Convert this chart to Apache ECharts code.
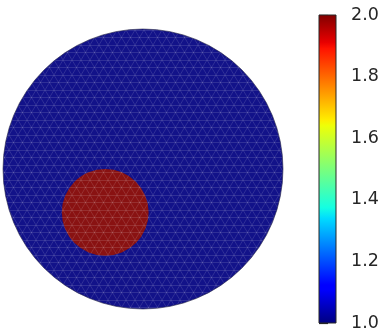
<!DOCTYPE html>
<html>
<head>
<meta charset="utf-8">
<style>
  html, body { margin: 0; padding: 0; background: #fff; }
  #chart { width: 383px; height: 333px; }
</style>
<script src="https://cdn.jsdelivr.net/npm/echarts@6/dist/echarts.min.js"></script>
</head>
<body>
<div id="chart"></div>
<script>
// regions of the field: unit disk with one circular inclusion
const regionX = [0, -0.27];
const regionY = [0, -0.31];
const regionR = [1, 0.31];
const regionValue = [1, 2];

// colorbar
const colorMin = 1.0;
const colorMax = 2.0;
const colorTicks = [1.0, 1.2, 1.4, 1.6, 1.8, 2.0];

// jet colormap, stops as [offset, color]
const jetStops = [
  [0.0, "#000080"], [0.11, "#0000ff"], [0.125, "#0000ff"], [0.34, "#00dbff"],
  [0.375, "#14ffe2"], [0.64, "#eeff08"], [0.66, "#ffec00"], [0.89, "#ff1300"],
  [0.91, "#e80000"], [1.0, "#800000"],
];

function jetAt(t) {
  for (let i = 1; i < jetStops.length; i++) {
    if (t <= jetStops[i][0]) return jetStops[i - 1][0] === t ? jetStops[i - 1][1] : jetStops[i][1];
  }
  return jetStops[jetStops.length - 1][1];
}

// faint mesh texture laid over the filled regions
function meshPattern() {
  const c = document.createElement("canvas");
  c.width = 9;
  c.height = 15;
  const ctx = c.getContext("2d");
  ctx.fillStyle = "rgba(255,255,255,0.07)";
  ctx.fillRect(0, 0, 9, 15);
  ctx.strokeStyle = "rgba(255,255,255,0.18)";
  ctx.lineWidth = 0.7;
  ctx.beginPath();
  ctx.moveTo(0, 0.5); ctx.lineTo(9, 0.5);
  ctx.moveTo(0, 7.5); ctx.lineTo(9, 7.5);
  ctx.moveTo(0, 0); ctx.lineTo(4.5, 7.5); ctx.lineTo(9, 15);
  ctx.moveTo(9, 0); ctx.lineTo(4.5, 7.5); ctx.lineTo(0, 15);
  ctx.stroke();
  return c;
}

const regionData = regionX.map((x, i) => [x, regionY[i], regionR[i], regionValue[i]]);
const pattern = { image: meshPattern(), repeat: "repeat" };

const chart = echarts.init(document.getElementById("chart"));
chart.setOption({
  animation: false,
  grid: [
    { left: 3, top: 29, width: 280, height: 280 },
    { left: 319, top: 15, width: 17, height: 308 },
  ],
  xAxis: [
    { type: "value", min: -1, max: 1, show: false, gridIndex: 0 },
    { type: "value", min: 0, max: 1, show: false, gridIndex: 1 },
  ],
  yAxis: [
    { type: "value", min: -1, max: 1, show: false, gridIndex: 0 },
    {
      type: "value", gridIndex: 1, position: "right",
      min: colorMin, max: colorMax, interval: 0.2,
      axisLine: { show: false },
      axisTick: { show: true, length: 9, lineStyle: { color: "#262626", width: 1.2 } },
      axisLabel: {
        margin: 15, color: "#262626", fontSize: 17.5, fontFamily: "DejaVu Sans",
        showMinLabel: true, showMaxLabel: true,
        formatter: (v) => colorTicks.some((t) => Math.abs(t - v) < 1e-6) ? v.toFixed(1) : "",
      },
      splitLine: { show: false },
    },
  ],
  series: [
    {
      type: "custom",
      xAxisIndex: 0,
      yAxisIndex: 0,
      data: regionData,
      renderItem: (params, api) => {
        const c = api.coord([api.value(0), api.value(1)]);
        const r = api.size([api.value(2), api.value(2)])[0];
        const t = (api.value(3) - colorMin) / (colorMax - colorMin);
        return {
          type: "group",
          children: [
            { type: "circle", shape: { cx: c[0], cy: c[1], r: r }, style: { fill: jetAt(t) } },
            {
              type: "circle", shape: { cx: c[0], cy: c[1], r: r },
              style: { fill: pattern, stroke: t === 0 ? "rgba(40,40,70,0.6)" : null, lineWidth: 1 },
            },
          ],
        };
      },
    },
    {
      type: "custom",
      xAxisIndex: 1,
      yAxisIndex: 1,
      data: [[0, 1, colorMin, colorMax]],
      renderItem: (params, api) => {
        const a = api.coord([api.value(0), api.value(3)]);
        const b = api.coord([api.value(1), api.value(2)]);
        return {
          type: "rect",
          shape: { x: a[0], y: a[1], width: b[0] - a[0], height: b[1] - a[1] },
          style: {
            fill: new echarts.graphic.LinearGradient(0, 1, 0, 0,
              jetStops.map((s) => ({ offset: s[0], color: s[1] }))),
            stroke: "#262626",
            lineWidth: 1,
          },
        };
      },
    },
  ],
});
</script>
</body>
</html>
